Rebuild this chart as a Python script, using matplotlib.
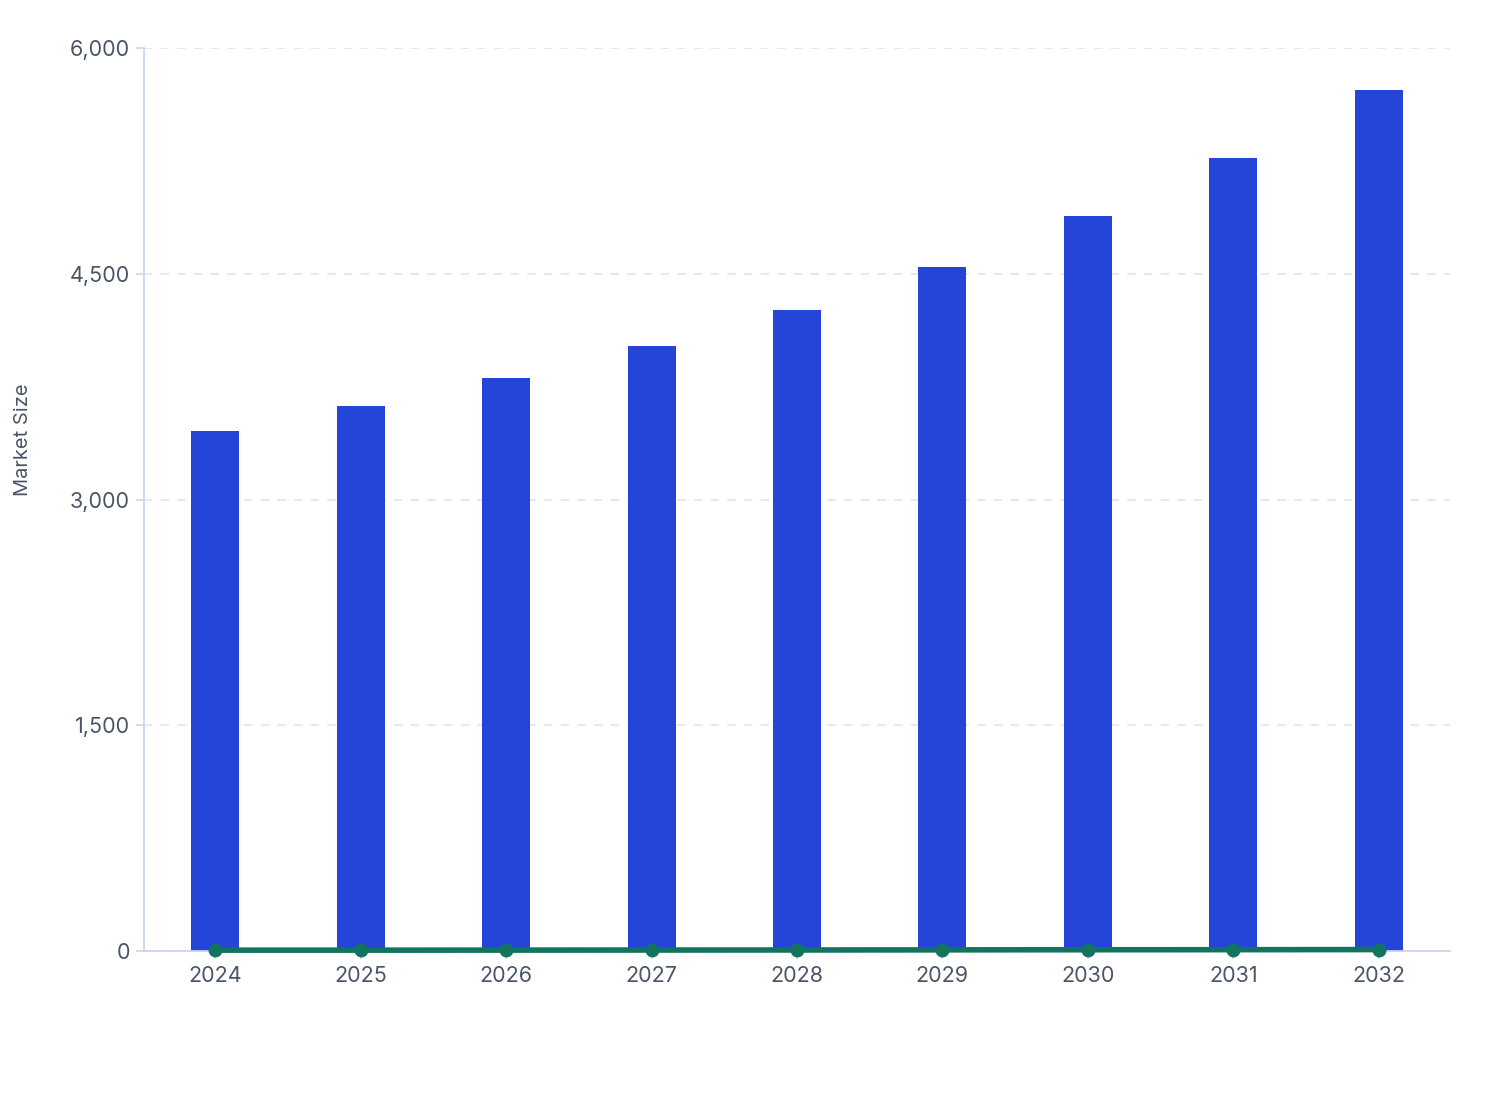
import numpy as np
import matplotlib.pyplot as plt
from matplotlib.ticker import FuncFormatter

plt.rcParams['font.family'] = ['Inter', 'DejaVu Sans']

years = ['2024', '2025', '2026', '2027', '2028', '2029', '2030', '2031', '2032']
market_size = [3455, 3620, 3807, 4020, 4259, 4545, 4884, 5269, 5721]
growth = [4.8, 4.9, 5.1, 5.6, 5.9, 6.7, 7.5, 7.9, 8.6]

BAR = '#2545d8'
LINE = '#12735f'
AXIS = '#c9d3f2'
TEXT = '#4a5568'

fig = plt.figure(figsize=(15.08, 11.2), dpi=100)
ax = fig.add_axes([0.0955, 0.151, 0.866, 0.806])

x = np.arange(len(years))
ax.bar(x, market_size, width=0.33, color=BAR, zorder=2)
ax.plot(x, growth, color=LINE, lw=4, marker='o', ms=9, zorder=3, clip_on=False)

ax.set_xlim(-0.49, 8.49)
ax.set_ylim(0, 6000)
ax.set_yticks([0, 1500, 3000, 4500, 6000])
ax.yaxis.set_major_formatter(FuncFormatter(lambda v, p: f'{int(v):,}'))
ax.set_xticks(x)
ax.set_xticklabels(years)

ax.grid(axis='y', color='#e2e4ea', linestyle=(0, (5, 5)), lw=1.2, zorder=0)
ax.set_axisbelow(True)

for s in ['top', 'right']:
    ax.spines[s].set_visible(False)
for s in ['left', 'bottom']:
    ax.spines[s].set_color(AXIS)
    ax.spines[s].set_linewidth(1.3)

ax.tick_params(axis='both', colors=AXIS, labelcolor=TEXT, labelsize=15.5, length=6, width=1.2)
ax.tick_params(axis='x', pad=5)
ax.tick_params(axis='y', pad=4)

ax.set_ylabel('Market Size', fontsize=14.5, color=TEXT)
ax.yaxis.set_label_coords(-0.086, 0.566)

fig.savefig('out.png', dpi=100, facecolor='white')
